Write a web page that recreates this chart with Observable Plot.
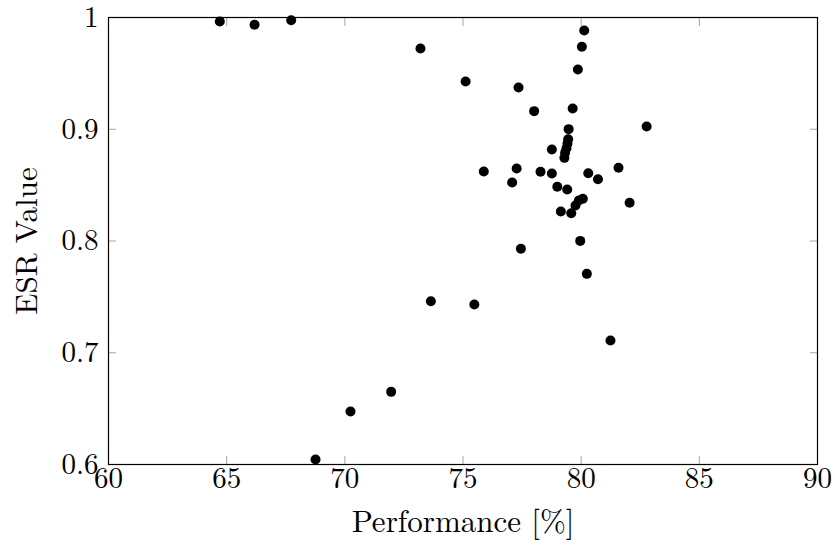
<!DOCTYPE html>
<html>
<head>
<meta charset="utf-8">
<script src="https://cdn.jsdelivr.net/npm/d3@7"></script>
<script src="https://cdn.jsdelivr.net/npm/@observablehq/plot@0.6"></script>
<style>
  html, body { margin: 0; padding: 0; background: #fff; }
  svg { font-family: "Latin Modern Roman", "CMU Serif", "Liberation Serif", serif; }
</style>
</head>
<body>
<div id="chart"></div>
<script>
const perf = [64.71, 66.18, 67.73, 68.76, 70.24, 71.96, 73.20, 73.64, 75.11, 75.48,
  75.88, 77.08, 77.27, 77.35, 77.45, 78.01, 78.28, 78.76, 78.76, 78.99,
  79.14, 79.29, 79.32, 79.38, 79.42, 79.45, 79.41, 79.47, 79.58, 79.64,
  79.76, 79.86, 79.90, 79.96, 80.03, 80.07, 80.13, 80.24, 80.30, 80.71,
  81.24, 81.58, 82.05, 82.77];
const esr = [0.9964, 0.9935, 0.9976, 0.6045, 0.6474, 0.6650, 0.9723, 0.7461, 0.9427, 0.7432,
  0.8622, 0.8523, 0.8649, 0.9374, 0.7930, 0.9162, 0.8619, 0.8819, 0.8604, 0.8485,
  0.8264, 0.8744, 0.8790, 0.8830, 0.8870, 0.8910, 0.8461, 0.9001, 0.8249, 0.9186,
  0.8318, 0.9535, 0.8362, 0.8001, 0.9738, 0.8378, 0.9884, 0.7706, 0.8607, 0.8553,
  0.7110, 0.8655, 0.8342, 0.9025];
const xTicks = [60, 65, 70, 75, 80, 85, 90];
const yTicks = [0.6, 0.7, 0.8, 0.9, 1];
const yTickLabels = ["0.6", "0.7", "0.8", "0.9", "1"];
const xTitle = "Performance [%]";
const yTitle = "ESR Value";

const points = perf.map((p, i) => ({perf: p, esr: esr[i]}));
const tickGray = "#a6a6a6";

const chart = Plot.plot({
  width: 835,
  height: 550,
  marginLeft: 108,
  marginRight: 18,
  marginTop: 17,
  marginBottom: 86,
  x: {domain: [60, 90]},
  y: {domain: [0.6, 1]},
  style: {fontFamily: '"Latin Modern Roman", "CMU Serif", "Liberation Serif", serif', background: "#fff", overflow: "visible"},
  marks: [
    // inward ticks on all four sides
    Plot.axisX({anchor: "bottom", ticks: xTicks, tickSize: 8, dy: -8, tickFormat: () => "", stroke: tickGray, label: null}),
    Plot.axisX({anchor: "top", ticks: xTicks, tickSize: 8, dy: 8, tickFormat: () => "", stroke: tickGray, label: null}),
    Plot.axisY({anchor: "left", ticks: yTicks, tickSize: 8, dx: 8, tickFormat: () => "", stroke: tickGray, label: null}),
    Plot.axisY({anchor: "right", ticks: yTicks, tickSize: 8, dx: -8, tickFormat: () => "", stroke: tickGray, label: null}),
    // tick labels
    Plot.axisX({anchor: "bottom", ticks: xTicks, tickSize: 0, tickPadding: 3, fontSize: 29, label: null, fill: "#000"}),
    Plot.axisY({anchor: "left", ticks: yTicks, tickSize: 0, tickPadding: 10, fontSize: 29, label: null, fill: "#000",
      tickFormat: (d) => yTickLabels[yTicks.indexOf(d)]}),
    Plot.frame({stroke: "#000", strokeWidth: 1.2}),
    Plot.dot(points, {x: "perf", y: "esr", r: 5, fill: "#000", stroke: "none"}),
    Plot.text([xTitle], {text: d => d, frameAnchor: "bottom", dy: 58, fontSize: 31, lineAnchor: "middle", fill: "#000"}),
    Plot.text([yTitle], {text: d => d, frameAnchor: "left", dx: -81, rotate: -90, fontSize: 31, textAnchor: "middle", lineAnchor: "middle", fill: "#000"})
  ]
});
document.getElementById("chart").appendChild(chart);
</script>
</body>
</html>
